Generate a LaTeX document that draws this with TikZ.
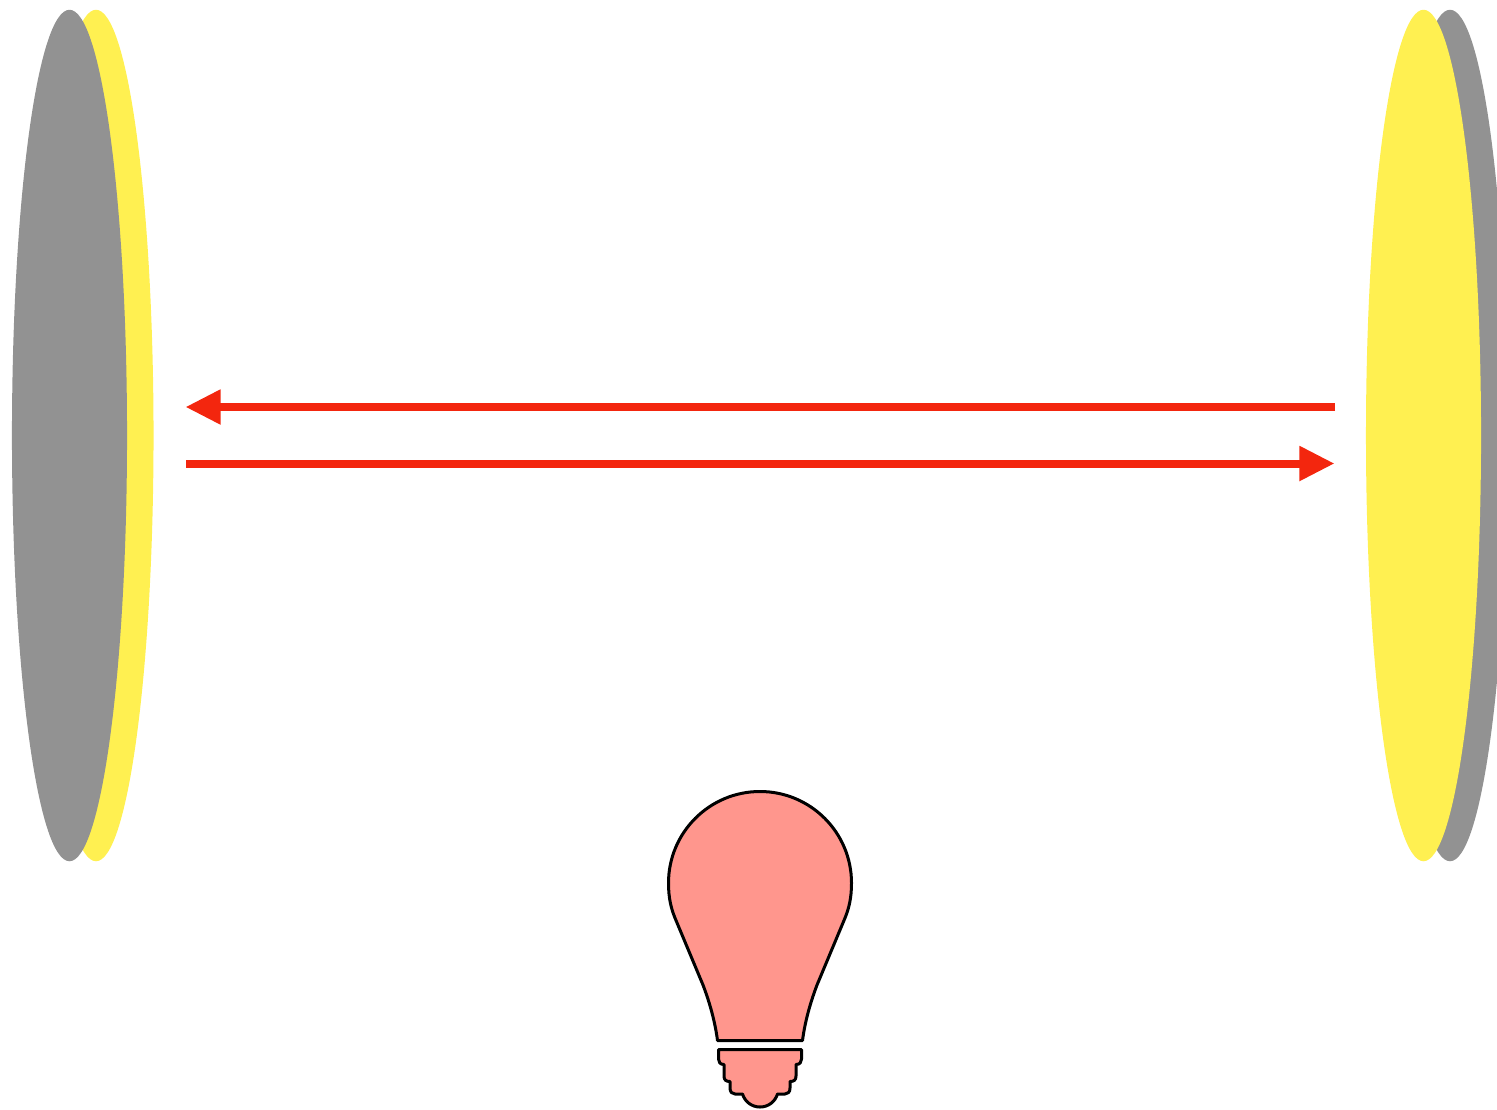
\documentclass[tikz,border=0pt]{standalone}
\usepackage{xcolor}
\usetikzlibrary{arrows.meta,shapes.geometric}
\definecolor{mirrorgray}{HTML}{929292}
\definecolor{mirroryellow}{HTML}{FFF051}
\definecolor{beamred}{HTML}{F3260E}
\definecolor{bulbpink}{HTML}{FF968D}

\begin{document}
\begin{tikzpicture}[
    x=0.01cm,
    y=-0.01cm,
    mirror/.style={
        ellipse,
        inner sep=0pt,
        minimum width=1.15cm,
        minimum height=8.51cm
    },
    beam/.style={
        draw=beamred,
        line width=0.08cm,
        -{Triangle[length=0.35cm,width=0.33cm]}
    },
    bulbpart/.style={
        draw=black,
        fill=bulbpink,
        line width=0.03cm,
        line join=round
    }
]

\clip (0,0) rectangle (1497,1109);

% ============================================================
% Left mirror
% ============================================================

\node[mirror, fill=mirroryellow] (leftcoat) at (96,435.5) {};
\node[mirror, fill=mirrorgray] (leftback) at (69.5,435.5) {};

% ============================================================
% Right mirror
% ============================================================

\node[mirror, fill=mirrorgray] (rightback) at (1450,435.5) {};
\node[mirror, fill=mirroryellow] (rightcoat) at (1423.5,435.5) {};

% ============================================================
% Beams between the mirrors
% ============================================================

\coordinate (topright) at (1335,407);
\coordinate (topleft) at (185.5,407);
\coordinate (lowleft) at (186,463.5);
\coordinate (lowright) at (1334.5,463.5);

\draw[beam] (topright) -- (topleft);
\draw[beam] (lowleft) -- (lowright);

% ============================================================
% Light bulb
% ============================================================

\draw[bulbpart] (717.5,1040.5)
    .. controls (715.5,1025) and (711,1006) .. (703,985)
    -- (675,918)
    .. controls (671,908) and (668.5,898) .. (668.5,883)
    arc[start angle=180, end angle=360, radius=91.5]
    .. controls (851.5,898) and (849,908) .. (845,918)
    -- (817,985)
    .. controls (809,1006) and (804.5,1025) .. (802.5,1040.5)
    -- cycle;

\draw[bulbpart] (718.5,1049.5) -- (801.5,1049.5) -- (801.5,1059)
    .. controls (801.5,1062) and (800,1064.5) .. (796,1064.5)
    -- (796,1076)
    .. controls (796,1080) and (794,1081.5) .. (790,1081.5)
    -- (790,1088)
    .. controls (790,1092) and (788,1094) .. (785,1094)
    -- (777.5,1094)
    .. controls (775,1102) and (768,1107) .. (760,1107)
    .. controls (752,1107) and (745,1102) .. (742.5,1094)
    -- (735,1094)
    .. controls (732,1094) and (730,1092) .. (730,1088)
    -- (730,1081.5)
    .. controls (726,1081.5) and (724,1080) .. (724,1076)
    -- (724,1064.5)
    .. controls (720,1064.5) and (718.5,1062) .. (718.5,1059)
    -- cycle;

\end{tikzpicture}
\end{document}
